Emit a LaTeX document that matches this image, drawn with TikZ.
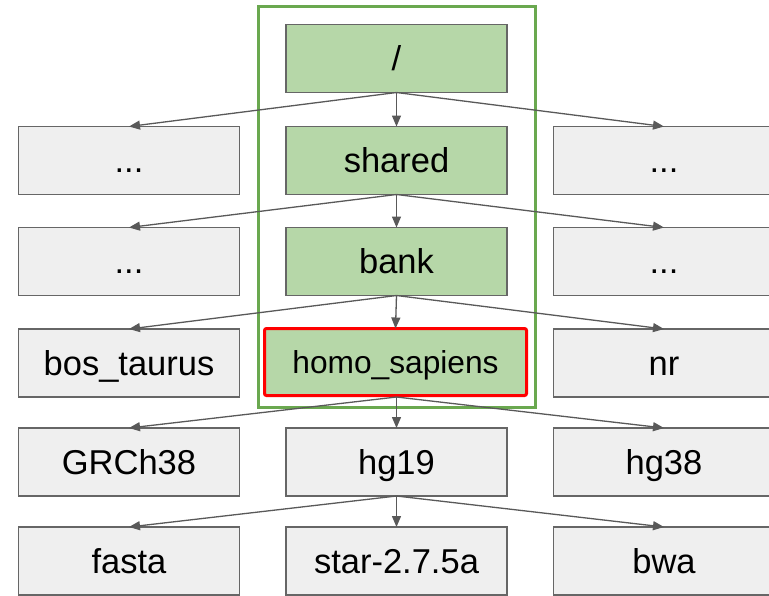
\documentclass[tikz,border=0pt]{standalone}
\usepackage{fontspec}
\setmainfont{Liberation Sans}
\usetikzlibrary{arrows.meta}
\definecolor{boxgray}{HTML}{EFEFEF}
\definecolor{edgegray}{HTML}{666666}
\definecolor{arrowgray}{HTML}{595959}
\definecolor{leafgreen}{HTML}{B6D7A8}
\definecolor{framegreen}{HTML}{6AA84F}
\tikzset{
  dirbox/.style={draw=edgegray, fill=boxgray, line width=1.3pt, minimum width=221pt, minimum height=68pt, inner sep=0pt, outer sep=0pt, text height=24pt, text depth=0pt, font=\fontsize{34.5}{38}\selectfont},
  pathbox/.style={dirbox, fill=leafgreen},
  selbox/.style={draw=red, fill=leafgreen, line width=3pt, rounded corners=2pt, minimum width=262pt, minimum height=67pt, inner sep=0pt, outer sep=0pt, text height=23pt, text depth=0pt, font=\fontsize{31.7}{35}\selectfont},
  link/.style={draw=arrowgray, line width=1.3pt, -{Triangle[length=11pt,width=9pt]}}
}
\begin{document}
\begin{tikzpicture}[x=1pt,y=-1pt]
\useasboundingbox (0,0) rectangle (769,595);
\draw[framegreen, line width=3pt] (258.5,6.5) rectangle (535.5,407.5);
% row 1
\node[pathbox] (root) at (396.5,58.5) {/};
% row 2
\node[dirbox] (l2) at (129,160.5) {...};
\node[pathbox] (shared) at (396.5,160.5) {shared};
\node[dirbox] (r2) at (664,160.5) {...};
% row 3
\node[dirbox] (l3) at (129,261.5) {...};
\node[pathbox] (bank) at (396.5,261.5) {bank};
\node[dirbox] (r3) at (664,261.5) {...};
% row 4
\node[dirbox] (bos) at (129,363) {bos\_taurus};
\node[selbox] (homo) at (395.5,362) {homo\_sapiens};
\node[dirbox] (nr) at (664,363) {nr};
% row 5
\node[dirbox] (grch) at (129,462) {GRCh38};
\node[dirbox] (hg19) at (396.5,462) {hg19};
\node[dirbox] (hg38) at (664,462) {hg38};
% row 6
\node[dirbox] (fasta) at (129,561) {fasta};
\node[dirbox] (star) at (396.5,561) {star-2.7.5a};
\node[dirbox] (bwa) at (664,561) {bwa};
% links
\foreach \p/\a/\b/\c in {root/l2/shared/r2, shared/l3/bank/r3, bank/bos/homo/nr, hg19/fasta/star/bwa} {
  \draw[link] (\p.south) -- (\a.north);
  \draw[link] (\p.south) -- (\b.north);
  \draw[link] (\p.south) -- (\c.north);
}
\coordinate (hs) at (396.5,397);
\draw[link] (hs) -- (grch.north);
\draw[link] (hs) -- (hg19.north);
\draw[link] (hs) -- (hg38.north);
\end{tikzpicture}
\end{document}
